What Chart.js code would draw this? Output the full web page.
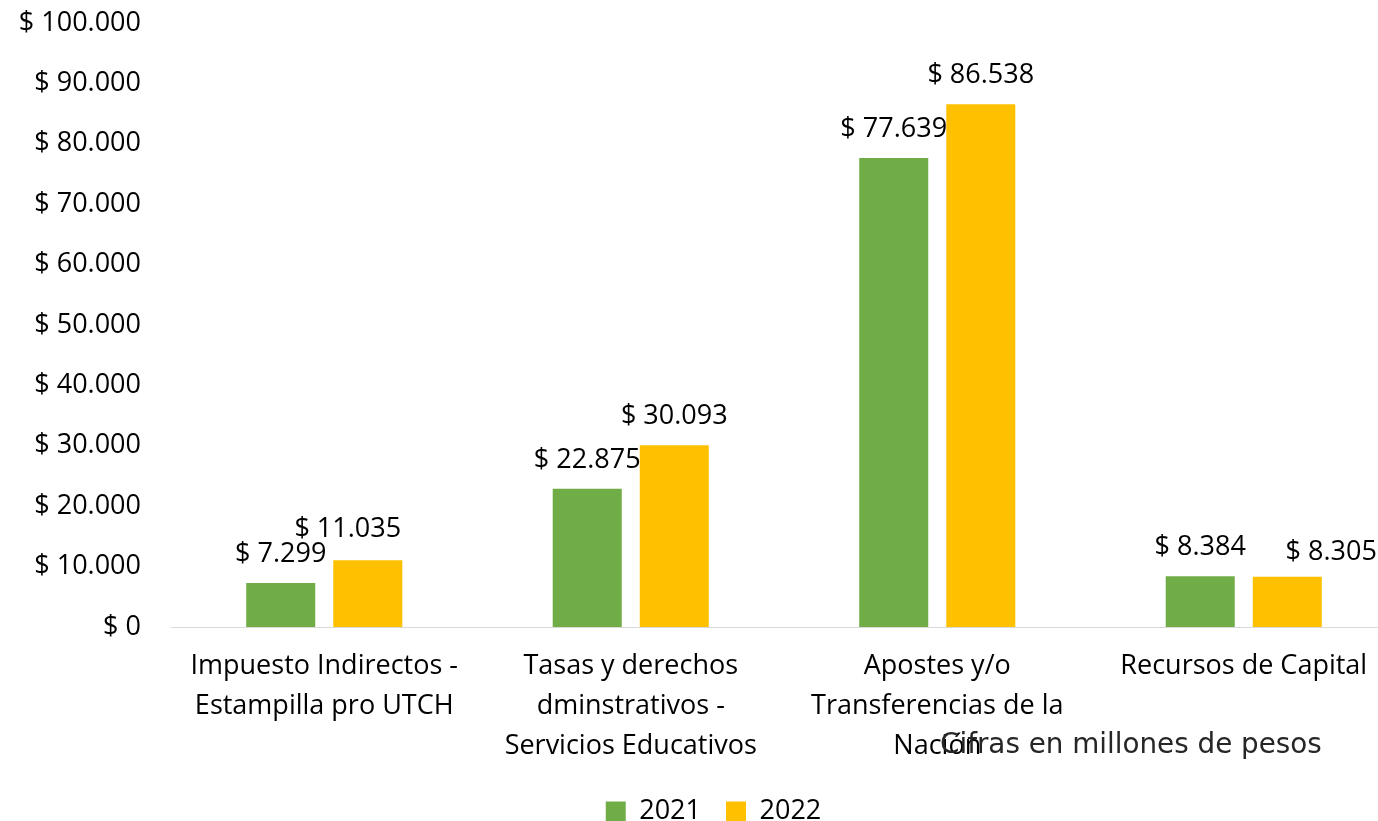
<!DOCTYPE html>
<html lang="es">
<head>
<meta charset="utf-8">
<title>Ingresos 2021 - 2022</title>
<script src="https://cdn.jsdelivr.net/npm/chart.js@4.4.1/dist/chart.umd.min.js"></script>
<style>
  html, body { margin: 0; padding: 0; background: #fff; overflow: hidden; }
  #wrap { position: relative; width: 1398px; height: 835px; }
</style>
</head>
<body>
<div id="wrap"><canvas id="chart"></canvas></div>
<script>
// datos
const categories = [
  ["Impuesto Indirectos -", "Estampilla pro UTCH"],
  ["Tasas y derechos", "dminstrativos -", "Servicios Educativos"],
  ["Apostes y/o", "Transferencias de la", "Nación"],
  ["Recursos de Capital"]
];
const seriesNames = ["2021", "2022"];
const values2021 = [7299, 22875, 77639, 8384];
const values2022 = [11035, 30093, 86538, 8305];
const yMin = 0;
const yMax = 100000;
const yStep = 10000;
const note = "Cifras en millones de pesos";

// estilo
const FONT = "'Open Sans', sans-serif";
const colors = ["#70AD47", "#FFC000"];
// pequeños desplazamientos de etiquetas (como en el original, para que no se encimen)
const labelNudgeX = [[0, 0, 0, 0], [-20, 0, 0, 44]];
const labelNudgeY = [[0, 0, 0, 0], [-2, 0, 0, 4]];

// "$ 7.299"
function money(n) {
  return "$ " + String(n).replace(/\B(?=(\d{3})+(?!\d))/g, ".");
}

// Etiquetas de valor, nota y ajuste de la leyenda
const extras = {
  id: "extras",
  afterLayout(chart) {
    // en el original la leyenda queda un poco a la derecha del centro
    chart.legend.left += 15;
    chart.legend.right += 15;
  },
  afterDatasetsDraw(chart) {
    const ctx = chart.ctx;
    ctx.save();
    ctx.font = "27px " + FONT;
    ctx.fillStyle = "#000";
    ctx.textAlign = "center";
    ctx.textBaseline = "alphabetic";
    chart.data.datasets.forEach((ds, di) => {
      chart.getDatasetMeta(di).data.forEach((bar, i) => {
        ctx.fillText(money(ds.data[i]), bar.x + labelNudgeX[di][i], bar.y - 21 + labelNudgeY[di][i]);
      });
    });
    ctx.restore();
  },
  afterDraw(chart) {
    const ctx = chart.ctx;
    ctx.save();
    let size = 27;
    ctx.font = size + "px 'DejaVu Sans', sans-serif";
    size = size * 382 / ctx.measureText(note).width;
    ctx.font = size + "px 'DejaVu Sans', sans-serif";
    ctx.fillStyle = "#262626";
    ctx.textAlign = "left";
    ctx.textBaseline = "middle";
    ctx.fillText(note, 940, 746);
    ctx.restore();
  }
};

new Chart(document.getElementById("chart"), {
  type: "bar",
  data: {
    labels: categories,
    datasets: [
      { label: seriesNames[0], data: values2021, backgroundColor: colors[0] },
      { label: seriesNames[1], data: values2022, backgroundColor: colors[1] }
    ]
  },
  options: {
    responsive: true,
    maintainAspectRatio: false,
    animation: false,
    categoryPercentage: 0.568,
    barPercentage: 0.793,
    layout: { padding: { top: 23, right: 1, left: 0, bottom: 0 } },
    plugins: {
      legend: {
        position: "bottom",
        labels: {
          boxWidth: 20,
          boxHeight: 20,
          padding: 25,
          color: "#000",
          font: { family: FONT, size: 27, lineHeight: 1 }
        }
      },
      tooltip: { enabled: false }
    },
    scales: {
      x: {
        grid: { display: false, drawTicks: false },
        border: { display: true, color: "#D9D9D9", width: 1 },
        ticks: {
          color: "#000",
          padding: 19,
          maxRotation: 0,
          autoSkip: false,
          font: { family: FONT, size: 27, lineHeight: "40px" }
        },
        afterFit(scale) { scale.height = 146; }
      },
      y: {
        min: yMin,
        max: yMax,
        grid: { display: false, drawTicks: false },
        border: { display: false },
        ticks: {
          stepSize: yStep,
          color: "#000",
          padding: 30,
          font: { family: FONT, size: 27 },
          callback: (v) => money(v)
        },
        afterFit(scale) {
          scale.width = 171;
          scale.paddingTop = 0;
          scale.paddingBottom = 0;
        }
      }
    }
  },
  plugins: [extras]
});
</script>
</body>
</html>
